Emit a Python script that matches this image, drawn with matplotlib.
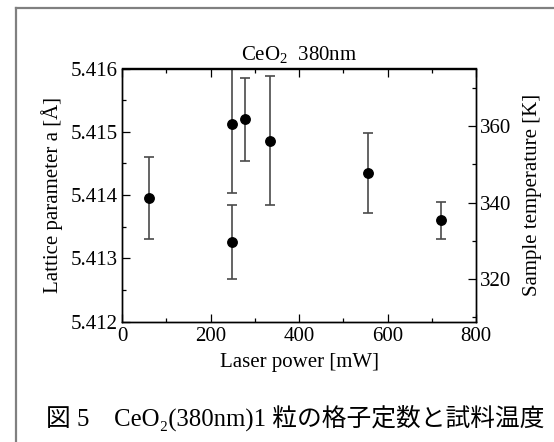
import matplotlib
matplotlib.use("Agg")
import matplotlib.pyplot as plt
from matplotlib.ticker import MultipleLocator, FormatStrFormatter
from matplotlib.lines import Line2D

# ---- data ----
laser_power = [60, 249, 249, 279, 335, 556, 722]
lattice_a = [5.41396, 5.41512, 5.41326, 5.41520, 5.41486, 5.41435, 5.41360]
err_low = [0.00065, 0.00108, 0.00059, 0.00066, 0.00102, 0.00063, 0.00030]
err_high = [0.00064, 0.00088, 0.00059, 0.00065, 0.00102, 0.00063, 0.00029]

x_lim = (0, 800)
y_lim = (5.412, 5.416)
temp_lim = (308.7, 375.2)

title = "CeO$_2$  380nm"
x_label = "Laser power [mW]"
y_label = "Lattice parameter a [Å]"
y2_label = "Sample temperature [K]"
caption = "図 5\u3000CeO₂(380nm)1 粒の格子定数と試料温度"

# ---- style ----
plt.rcParams["font.family"] = ["Liberation Serif", "DejaVu Serif"]
plt.rcParams["mathtext.fontset"] = "custom"
plt.rcParams["mathtext.rm"] = "Liberation Serif"
plt.rcParams["mathtext.it"] = "Liberation Serif:italic"
FS = 15

fig = plt.figure(figsize=(5.54, 4.42), dpi=100)
W, H = 554, 442
ax = fig.add_axes([122 / W, 1 - 321.7 / H, 354 / W, (321.7 - 68.5) / H])

ax.errorbar(laser_power, lattice_a, yerr=[err_low, err_high], fmt="o",
            color="black", ms=6.8, ecolor="#4a4a4a", elinewidth=1.2,
            capsize=3.6, capthick=1.2, clip_on=True)

ax.set_xlim(*x_lim)
ax.set_ylim(*y_lim)
ax.xaxis.set_major_locator(MultipleLocator(200))
ax.xaxis.set_minor_locator(MultipleLocator(100))
ax.yaxis.set_major_locator(MultipleLocator(0.001))
ax.yaxis.set_minor_locator(MultipleLocator(0.0005))
ax.yaxis.set_major_formatter(FormatStrFormatter("%.3f"))
ax.tick_params(which="both", direction="in", top=True, right=False,
               labelsize=FS, width=0.9)
ax.tick_params(axis="x", pad=3.5)
ax.tick_params(axis="y", pad=3.2)
ax.tick_params(which="major", length=6)
ax.tick_params(which="minor", length=3)
for s in ax.spines.values():
    s.set_linewidth(1.0)

ax.set_xlabel(x_label, fontsize=FS, labelpad=5)
ax.set_ylabel(y_label, fontsize=FS, labelpad=5)
ax.set_title(title, fontsize=FS, pad=6)

ax2 = ax.twinx()
ax2.set_ylim(*temp_lim)
ax2.yaxis.set_major_locator(MultipleLocator(20))
ax2.yaxis.set_minor_locator(MultipleLocator(10))
ax2.tick_params(which="both", direction="in", labelsize=FS, pad=2.5, width=0.9)
ax2.tick_params(which="major", length=6)
ax2.tick_params(which="minor", length=3)
ax2.set_ylabel(y2_label, fontsize=FS, labelpad=9)
for s in ax2.spines.values():
    s.set_linewidth(1.0)

# outer frame (gray, open at right/bottom)
fy = 1 - 8 / H
fx = 16 / W
fig.add_artist(Line2D([fx, fx], [0, fy], transform=fig.transFigure,
                      color="#808080", lw=1.6))
fig.add_artist(Line2D([fx, 1], [fy, fy], transform=fig.transFigure,
                      color="#808080", lw=1.6))

fig.text(46 / W, 1 - 426 / H, caption, fontsize=17.8, ha="left", va="baseline",
         family=["Liberation Serif", "Noto Sans CJK JP"])

fig.savefig("out.png", dpi=100)
